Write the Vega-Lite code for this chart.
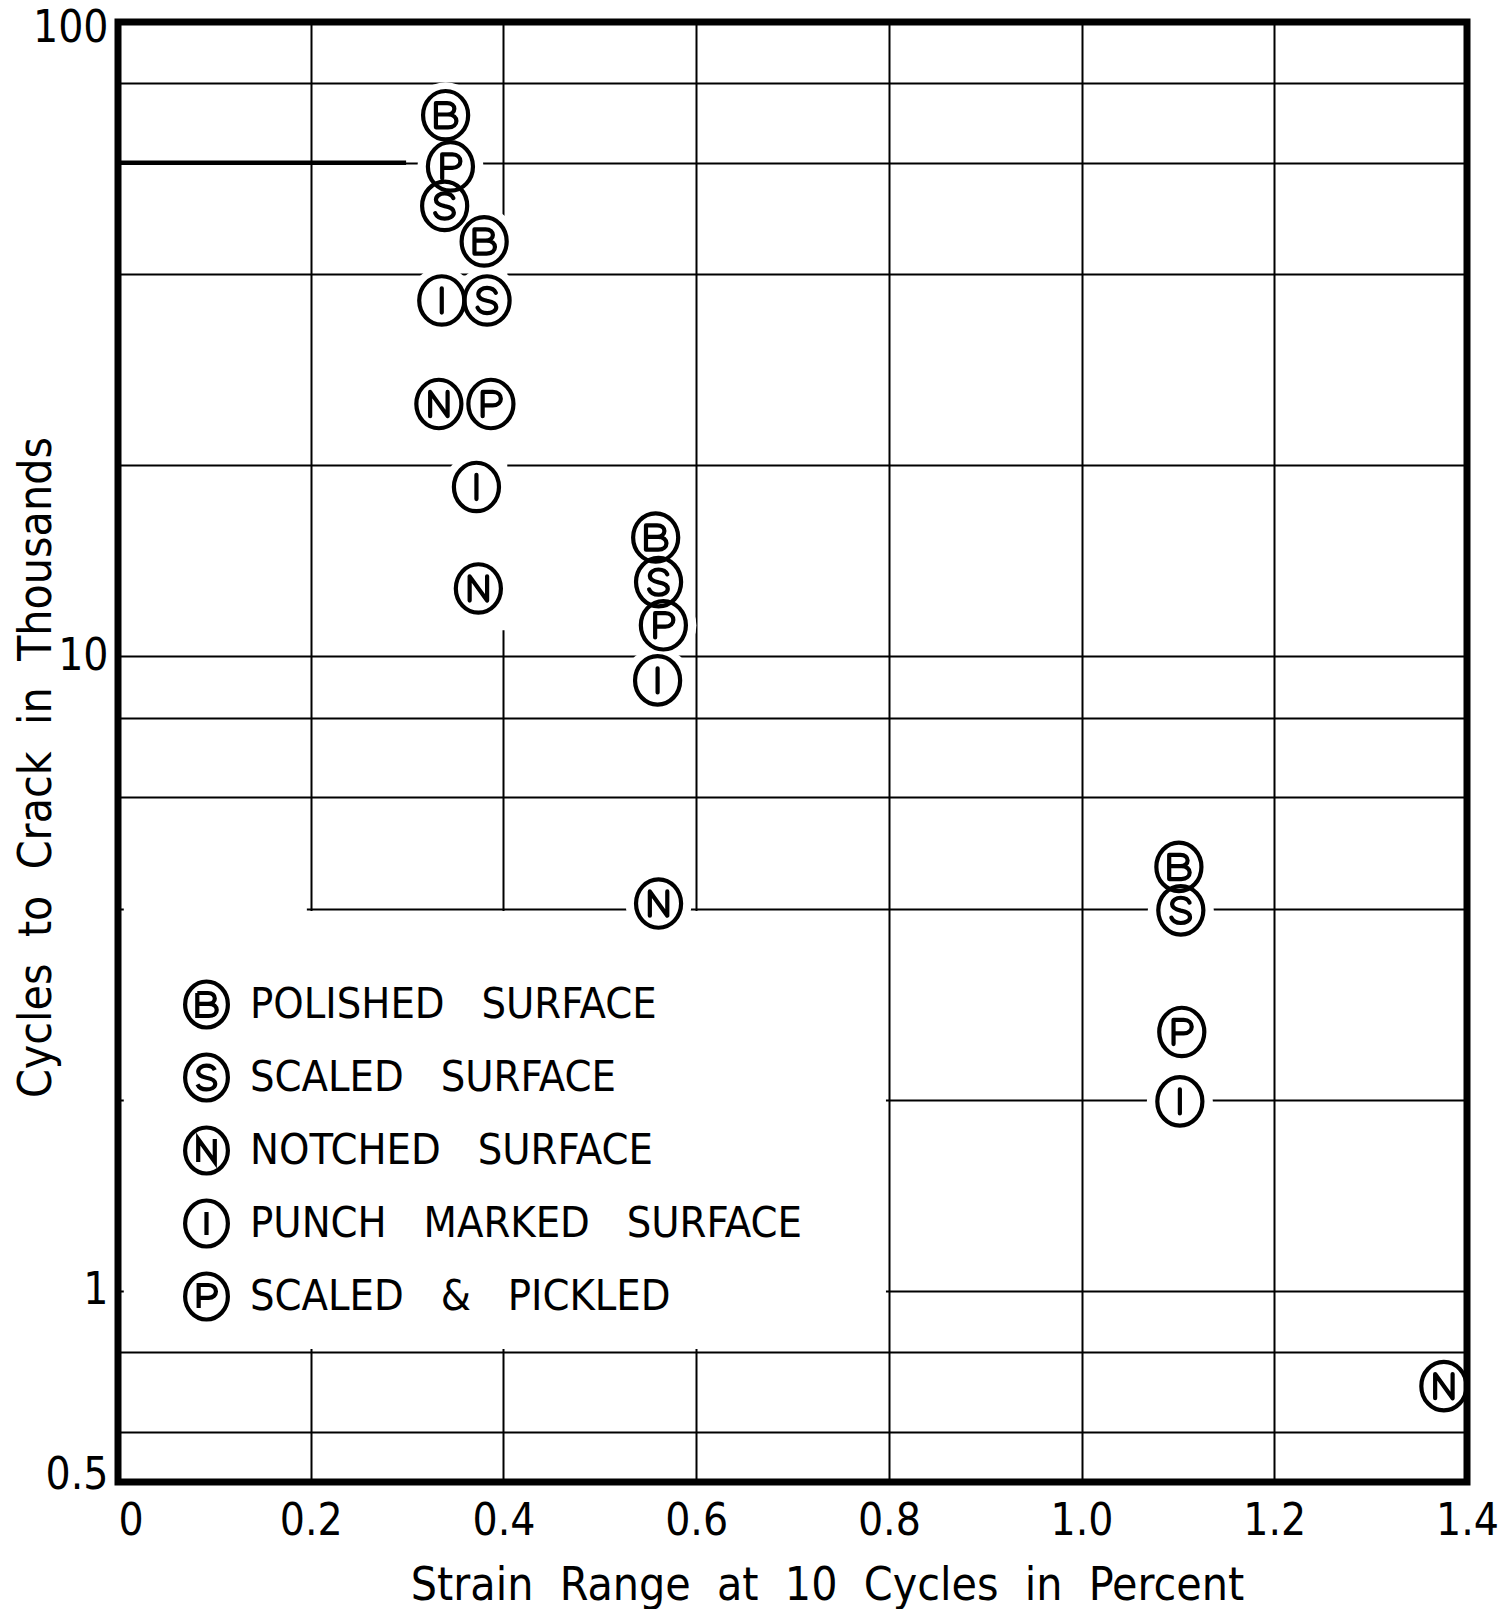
{
  "$schema": "https://vega.github.io/schema/vega-lite/v6.json",
  "width": 1349,
  "height": 1460,
  "autosize": {"type": "none"},
  "padding": {"left": 118, "top": 22, "right": 36, "bottom": 127},
  "background": "white",
  "config": {
    "font": "DejaVu Sans Condensed, DejaVu Sans, sans-serif",
    "view": {"stroke": "black", "strokeWidth": 7},
    "axis": {
      "gridColor": "black",
      "gridWidth": 2,
      "gridOpacity": 1,
      "ticks": false,
      "domain": false,
      "labelColor": "black",
      "titleColor": "black",
      "labelFontWeight": "normal",
      "titleFontWeight": "normal",
      "labelOverlap": false
    }
  },
  "data": {
    "values": [
      {"surface": "POLISHED SURFACE", "strain": 0.340, "cycles": 71.3},
      {"surface": "SCALED & PICKLED", "strain": 0.345, "cycles": 59.2},
      {"surface": "SCALED SURFACE", "strain": 0.339, "cycles": 51.3},
      {"surface": "POLISHED SURFACE", "strain": 0.380, "cycles": 45.1},
      {"surface": "PUNCH MARKED SURFACE", "strain": 0.336, "cycles": 36.4},
      {"surface": "SCALED SURFACE", "strain": 0.383, "cycles": 36.4},
      {"surface": "NOTCHED SURFACE", "strain": 0.333, "cycles": 25.0},
      {"surface": "SCALED & PICKLED", "strain": 0.387, "cycles": 25.0},
      {"surface": "PUNCH MARKED SURFACE", "strain": 0.372, "cycles": 18.5},
      {"surface": "NOTCHED SURFACE", "strain": 0.374, "cycles": 12.8},
      {"surface": "POLISHED SURFACE", "strain": 0.558, "cycles": 15.4},
      {"surface": "SCALED SURFACE", "strain": 0.561, "cycles": 13.1},
      {"surface": "SCALED & PICKLED", "strain": 0.566, "cycles": 11.2},
      {"surface": "PUNCH MARKED SURFACE", "strain": 0.560, "cycles": 9.17},
      {"surface": "NOTCHED SURFACE", "strain": 0.561, "cycles": 4.08},
      {"surface": "POLISHED SURFACE", "strain": 1.101, "cycles": 4.66},
      {"surface": "SCALED SURFACE", "strain": 1.103, "cycles": 3.98},
      {"surface": "SCALED & PICKLED", "strain": 1.104, "cycles": 2.56},
      {"surface": "PUNCH MARKED SURFACE", "strain": 1.102, "cycles": 1.99},
      {"surface": "NOTCHED SURFACE", "strain": 1.376, "cycles": 0.708}
    ]
  },
  "layer": [
    {
      "data": {"values": [{}]},
      "mark": {"type": "rect", "fill": "white", "stroke": null},
      "encoding": {
        "x": {"datum": 0.006, "type": "quantitative", "scale": {"domain": [0, 1.4], "nice": false}},
        "x2": {"datum": 0.797},
        "y": {"datum": 0.81, "type": "quantitative", "scale": {"type": "log", "domain": [0.5, 100], "nice": false}},
        "y2": {"datum": 3.97}
      }
    },
    {
      "data": {"values": [{}]},
      "mark": {"type": "rect", "fill": "white", "stroke": null},
      "encoding": {
        "x": {"datum": 0.006, "type": "quantitative", "scale": {"domain": [0, 1.4], "nice": false}},
        "x2": {"datum": 0.196},
        "y": {"datum": 3.85, "type": "quantitative", "scale": {"type": "log", "domain": [0.5, 100], "nice": false}},
        "y2": {"datum": 4.2}
      }
    },
    {
      "data": {"values": [{}]},
      "mark": {"type": "rect", "fill": "white", "stroke": null},
      "encoding": {
        "x": {"datum": 0.396, "type": "quantitative", "scale": {"domain": [0, 1.4], "nice": false}},
        "x2": {"datum": 0.404},
        "y": {"datum": 11.0, "type": "quantitative", "scale": {"type": "log", "domain": [0.5, 100], "nice": false}},
        "y2": {"datum": 44.6}
      }
    },
    {
      "data": {"values": [{}]},
      "mark": {"type": "rule", "color": "black", "strokeWidth": 4.5},
      "encoding": {
        "x": {"datum": 0, "type": "quantitative", "scale": {"domain": [0, 1.4], "nice": false}},
        "x2": {"datum": 0.299},
        "y": {"datum": 60, "type": "quantitative", "scale": {"type": "log", "domain": [0.5, 100], "nice": false}}
      }
    },
    {
      "transform": [{"filter": "datum.strain < 1.3"}],
      "mark": {"type": "point", "shape": "circle", "filled": true, "fill": "white", "stroke": null, "size": 4356, "opacity": 1},
      "encoding": {
        "x": {"field": "strain", "type": "quantitative", "scale": {"domain": [0, 1.4], "nice": false}},
        "y": {"field": "cycles", "type": "quantitative", "scale": {"type": "log", "domain": [0.5, 100], "nice": false}}
      }
    },
    {
      "mark": {"type": "point", "filled": false, "color": "black", "stroke": "black", "strokeWidth": 4.2, "size": 2350, "opacity": 1, "strokeCap": "round", "strokeJoin": "round"},
      "encoding": {
        "x": {
          "field": "strain", "type": "quantitative",
          "scale": {"domain": [0, 1.4], "nice": false},
          "axis": {
            "values": [0, 0.2, 0.4, 0.6, 0.8, 1, 1.2, 1.4],
            "grid": true,
            "labelExpr": "datum.value == 0 ? '0' : format(datum.value, '.1f')",
            "labelFontSize": 44,
            "labelPadding": 17,
            "labelBaseline": "top",
            "labelFlush": false,
            "labelAlign": {"condition": {"test": "datum.value == 0", "value": "left"}, "value": "center"},
            "title": "Strain\u00a0\u00a0Range\u00a0\u00a0at\u00a0\u00a010\u00a0\u00a0Cycles\u00a0\u00a0in\u00a0\u00a0Percent",
            "titleFontSize": 46,
            "titleX": 709,
            "titleY": 117,
            "titleAlign": "center",
            "titleBaseline": "alphabetic"
          }
        },
        "y": {
          "field": "cycles", "type": "quantitative",
          "scale": {"type": "log", "domain": [0.5, 100], "nice": false},
          "axis": {
            "values": [0.5, 0.6, 0.8, 1, 2, 4, 6, 8, 10, 20, 40, 60, 80, 100],
            "grid": true,
            "labelExpr": "indexof([0.5, 1, 10, 100], datum.value) >= 0 ? datum.value + '' : ''",
            "labelFontSize": 44,
            "labelPadding": 10,
            "labelFlush": false,
            "labelOffset": {"condition": [{"test": "datum.value == 100", "value": 6}, {"test": "datum.value == 0.5", "value": -7}], "value": 0},
            "title": "Cycles\u00a0\u00a0to\u00a0\u00a0Crack\u00a0\u00a0in\u00a0\u00a0Thousands",
            "titleFontSize": 46,
            "titleAngle": -90,
            "titleX": -68,
            "titleY": 745,
            "titleAlign": "center",
            "titleBaseline": "alphabetic"
          }
        },
        "shape": {
          "field": "surface", "type": "nominal",
          "scale": {
            "domain": ["POLISHED SURFACE", "SCALED SURFACE", "NOTCHED SURFACE", "PUNCH MARKED SURFACE", "SCALED & PICKLED"],
            "range": [
              "M-0.93,0A0.93,1,0,1,1,0.93,0A0.93,1,0,1,1,-0.93,0ZM-0.4,-0.5L-0.4,0.5L0.1,0.5C0.56,0.5,0.56,-0.03,0.1,-0.03L-0.4,-0.03M-0.4,-0.5L0.06,-0.5C0.46,-0.5,0.46,-0.03,0.06,-0.03",
              "M-0.93,0A0.93,1,0,1,1,0.93,0A0.93,1,0,1,1,-0.93,0ZM0.36,-0.32C0.3,-0.46,0.16,-0.52,0,-0.52C-0.2,-0.52,-0.36,-0.4,-0.36,-0.25C-0.36,-0.08,-0.18,-0.03,0,0.01C0.22,0.05,0.38,0.12,0.38,0.27C0.38,0.43,0.2,0.52,0,0.52C-0.2,0.52,-0.34,0.42,-0.39,0.3",
              "M-0.93,0A0.93,1,0,1,1,0.93,0A0.93,1,0,1,1,-0.93,0ZM-0.36,0.5L-0.36,-0.5L0.36,0.5L0.36,-0.5",
              "M-0.93,0A0.93,1,0,1,1,0.93,0A0.93,1,0,1,1,-0.93,0ZM0,-0.5L0,0.5",
              "M-0.93,0A0.93,1,0,1,1,0.93,0A0.93,1,0,1,1,-0.93,0ZM-0.34,0.5L-0.34,-0.5L0.08,-0.5C0.52,-0.5,0.52,0.06,0.08,0.06L-0.34,0.06"
            ]
          },
          "legend": {
            "title": null,
            "orient": "none",
            "legendX": 63,
            "legendY": 957,
            "direction": "vertical",
            "padding": 0,
            "labelFontSize": 43,
            "labelColor": "black",
            "labelOffset": 18,
            "labelLimit": 2000,
            "rowPadding": 10,
            "symbolSize": 2116,
            "symbolStrokeWidth": 4.2,
            "symbolStrokeColor": "black",
            "symbolFillColor": "transparent",
            "symbolOpacity": 1,
            "labelExpr": "replace(datum.label, regexp(' ', 'g'), '\u00a0\u00a0\u00a0')"
          }
        }
      }
    }
  ]
}
